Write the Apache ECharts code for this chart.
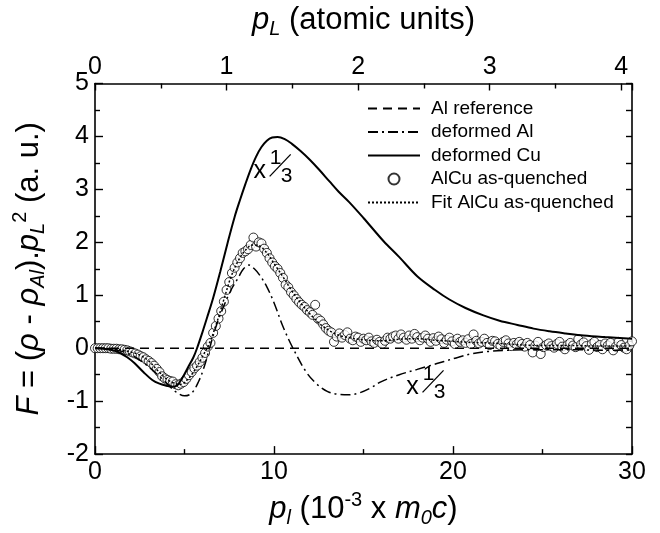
<!DOCTYPE html>
<html><head><meta charset="utf-8">
<script src="https://cdn.jsdelivr.net/npm/echarts@6/dist/echarts.min.js"></script>
<style>html,body{margin:0;padding:0;background:#fff}#c{width:660px;height:533px}</style>
</head><body><div id="c"></div>
<script>
const FONT = '"Liberation Sans", Arial, sans-serif';

// ---------- data ----------
const refX = [0, 30];
const refY = [0, 0];

const cuX = [0, 0.5, 1, 1.4, 1.8, 2.2, 2.7, 3.2, 3.6, 4.0, 4.3, 4.6, 4.9, 5.2, 5.5, 5.7, 6.0, 6.3, 6.6, 7.0, 7.4, 7.8, 8.1, 8.4, 8.7, 9.0, 9.3, 9.6, 9.9, 10.2, 10.6, 11.0, 11.5, 12.0, 12.5, 13.1, 13.6, 14.2, 15.0, 16.1, 17.0, 18.0, 19.0, 19.8, 20.7, 21.7, 22.6, 23.6, 24.5, 25.4, 26.3, 27.3, 28.5, 30];
const cuY = [0, -0.01, -0.04, -0.09, -0.17, -0.28, -0.45, -0.6, -0.67, -0.71, -0.73, -0.7, -0.55, -0.36, -0.17, 0, 0.3, 0.62, 0.95, 1.45, 1.98, 2.48, 2.8, 3.1, 3.38, 3.62, 3.8, 3.92, 3.98, 3.99, 3.95, 3.86, 3.72, 3.56, 3.38, 3.15, 2.96, 2.76, 2.46, 2.03, 1.72, 1.36, 1.1, 0.92, 0.76, 0.62, 0.52, 0.44, 0.37, 0.32, 0.28, 0.24, 0.21, 0.18];

const alX = [0, 1, 2, 2.8, 3.5, 4.0, 4.5, 5.0, 5.4, 5.8, 6.1, 6.4, 6.8, 7.2, 7.6, 8.0, 8.3, 8.6, 8.9, 9.2, 9.6, 10.0, 10.5, 11.06, 11.8, 12.4, 13.0, 13.6, 14.2, 14.8, 15.4, 16.0, 17.0, 18.0, 18.7, 19.5, 20.3, 21.1, 22.0, 23.0, 24.0, 25.5, 27.0, 28.5, 30];
const alY = [0, -0.02, -0.12, -0.3, -0.5, -0.66, -0.82, -0.9, -0.85, -0.62, -0.35, 0, 0.45, 0.8, 1.1, 1.33, 1.5, 1.57, 1.5, 1.38, 1.16, 0.86, 0.41, 0, -0.45, -0.68, -0.82, -0.87, -0.88, -0.84, -0.75, -0.63, -0.5, -0.4, -0.33, -0.25, -0.17, -0.1, -0.06, -0.04, -0.03, -0.03, -0.03, -0.04, -0.03];

const fitX = [0, 1, 2, 2.5, 3, 3.5, 4, 4.5, 4.8, 5.2, 5.6, 6, 6.4, 6.8, 7.2, 7.6, 8, 8.4, 8.8, 9.2, 9.6, 10, 10.5, 11, 11.5, 12, 12.5, 13, 13.5, 14, 15, 16, 17, 18, 19, 20, 21, 22, 23, 24, 25, 26, 27, 28, 29, 30];
const fitY = [0, -0.01, -0.07, -0.13, -0.24, -0.42, -0.58, -0.67, -0.68, -0.58, -0.4, -0.16, 0.1, 0.48, 0.92, 1.35, 1.65, 1.85, 1.95, 1.93, 1.8, 1.6, 1.35, 1.08, 0.85, 0.65, 0.48, 0.35, 0.26, 0.21, 0.16, 0.14, 0.17, 0.18, 0.15, 0.13, 0.11, 0.1, 0.08, 0.06, 0.05, 0.05, 0.05, 0.04, 0.04, 0.04];

// measured points (AlCu as-quenched), x grid from 0 to 30 in steps of 0.15
const measStep = 0.15;
const measY = [
  0.00, 0.00, 0.00, 0.00, 0.00, 0.00, -0.01, -0.01, -0.01, -0.02, -0.02,
  -0.03, -0.04, -0.06, -0.08, -0.10, -0.12, -0.15, -0.17, -0.21, -0.24,
  -0.28, -0.33, -0.39, -0.45, -0.53, -0.57, -0.60, -0.62, -0.63, -0.68,
  -0.70, -0.67, -0.64, -0.58, -0.51, -0.45, -0.38, -0.33, -0.26, -0.18,
  -0.09, 0.03, 0.10, 0.29, 0.42, 0.56, 0.70, 0.88, 1.10, 1.25,
  1.42, 1.52, 1.62, 1.70, 1.80, 1.83, 1.87, 1.95, 2.09, 1.92,
  2.00, 1.98, 1.88, 1.80, 1.70, 1.62, 1.55, 1.50, 1.42, 1.33,
  1.20, 1.15, 1.06, 1.00, 0.93, 0.87, 0.82, 0.78, 0.72, 0.68,
  0.63, 0.82, 0.56, 0.52, 0.45, 0.38, 0.33, 0.30, 0.12, 0.22,
  0.28, 0.20, 0.25, 0.30, 0.18, 0.15, 0.22, 0.20, 0.12, 0.18,
  0.15, 0.20, 0.13, 0.10, 0.16, 0.12, 0.08, 0.14, 0.20, 0.18,
  0.22, 0.24, 0.18, 0.26, 0.20, 0.16, 0.24, 0.18, 0.27, 0.21,
  0.15, 0.20, 0.24, 0.18, 0.12, 0.19, 0.14, 0.22, 0.17, 0.10,
  0.16, 0.20, 0.13, 0.08, 0.18, 0.12, 0.15, 0.10, 0.17, 0.08,
  0.26, 0.14, 0.09, 0.12, 0.18, 0.10, 0.06, 0.14, 0.13, 0.08,
  0.05, 0.12, 0.15, 0.09, 0.04, 0.10, 0.07, 0.12, 0.08, 0.03,
  0.10, 0.06, -0.08, 0.05, 0.12, -0.11, 0.02, 0.06, 0.09, 0.04,
  0.01, 0.08, 0.12, 0.03, -0.02, 0.06, 0.10, 0.05, 0.02, 0.17,
  0.07, 0.11, 0.04, -0.03, 0.08, 0.12, 0.02, 0.06, -0.02, 0.09,
  0.05, 0.10, -0.04, 0.03, 0.12, 0.06, 0.01, -0.02, 0.05, 0.13
];

const xTicks = [0, 10, 20, 30];
const yTicks = [-2, -1, 0, 1, 2, 3, 4, 5];
const auTicks = [0, 1, 2, 3, 4];
const auPerUnit = 7.35; // one atomic unit on the top axis, in 10^-3 m0c

// "x 1/3" annotations anchored in data coordinates
const annX = [9.2, 17.74];
const annY = [3.34, -0.74];

const names = ['Al reference', 'deformed Al', 'deformed Cu', 'AlCu as-quenched', 'Fit AlCu as-quenched'];

// ---------- build ----------
const zip = (xs, ys) => xs.map((x, i) => [x, ys[i]]);
const measData = measY.map((y, i) => [+(i * measStep).toFixed(2), y]);

const NF = 31, SF = 20;
const rich = {
  n: { fontSize: NF, fontFamily: FONT, color: '#000' },
  i: { fontSize: NF, fontFamily: FONT, fontStyle: 'italic', color: '#000' },
  isub: { fontSize: SF, fontFamily: FONT, fontStyle: 'italic', color: '#000', padding: [18, 0, 0, 0] },
  sup: { fontSize: SF, fontFamily: FONT, color: '#000', padding: [0, 0, 18, 0] }
};

const axisLine = { show: true, onZero: false, lineStyle: { color: '#000', width: 1.6 } };
const labelStyle = { color: '#000', fontSize: 25, fontFamily: FONT };

const chart = echarts.init(document.getElementById('c'));
chart.setOption({
  animation: false,
  backgroundColor: '#fff',
  grid: { left: 95, right: 28, top: 81, bottom: 76, containLabel: false },
  legend: {
    orient: 'vertical', left: 362, top: 94,
    itemWidth: 52, itemHeight: 11, itemGap: 4.5,
    data: names.map(n => n === names[3] ? { name: n } : { name: n, itemStyle: { opacity: 0 } }),
    textStyle: { fontSize: 19, fontFamily: FONT, color: '#000', padding: [0, 0, 0, 6] },
    selectedMode: false
  },
  xAxis: [
    {
      type: 'value', position: 'bottom', min: 0, max: 30, interval: 10,
      axisLine, splitLine: { show: false },
      axisTick: { inside: true, length: 8, lineStyle: { color: '#000', width: 1.4 } },
      minorTick: { show: true, splitNumber: 2, length: 5, lineStyle: { color: '#000', width: 1.4 } },
      axisLabel: Object.assign({ margin: 6, formatter: v => xTicks.includes(v) ? String(v) : '' }, labelStyle),
      name: '{i|p}{isub|l}{n| (10}{sup|-3}{n| x }{i|m}{isub|0}{i|c}{n|)}',
      nameLocation: 'middle', nameGap: 32,
      nameTextStyle: { rich }
    },
    {
      type: 'value', position: 'top', min: 0, max: 30 / auPerUnit, interval: 1,
      axisLine, splitLine: { show: false },
      axisTick: { inside: true, length: 7, lineStyle: { color: '#000', width: 1.4 } },
      minorTick: { show: true, splitNumber: 2, length: 5, lineStyle: { color: '#000', width: 1.4 } },
      axisLabel: Object.assign({ margin: 4, formatter: v => auTicks.includes(v) ? String(v) : '' }, labelStyle),
      name: '{i|p}{isub|L}{n| (atomic units)}',
      nameLocation: 'middle', nameGap: 44,
      nameTextStyle: { rich }
    }
  ],
  yAxis: [
    {
      type: 'value', position: 'left', min: -2, max: 5, interval: 1,
      axisLine, splitLine: { show: false },
      axisTick: { inside: true, length: 8, lineStyle: { color: '#000', width: 1.4 } },
      minorTick: { show: true, splitNumber: 2, length: 5, lineStyle: { color: '#000', width: 1.4 } },
      axisLabel: Object.assign({ margin: 6, formatter: v => yTicks.includes(v) ? String(v) : '' }, labelStyle),
      name: '{i|F}{n| = (}{i|ρ}{n| - }{i|ρ}{isub|Al}{n|).}{i|p}{isub|L}{sup|2}{n| (a. u.)}',
      nameLocation: 'middle', nameGap: 47, nameRotate: 90,
      nameTextStyle: { rich }
    },
    {
      type: 'value', position: 'right', min: -2, max: 5, interval: 0.5,
      axisLine, splitLine: { show: false },
      axisTick: { inside: true, length: 6, lineStyle: { color: '#000', width: 1.4 } },
      axisLabel: { show: false }
    }
  ],
  series: [
    {
      name: names[0], type: 'line', data: zip(refX, refY), symbol: 'none', z: 3,
      lineStyle: { color: '#000', width: 1.5, type: [9, 6] }, itemStyle: { color: '#000' }
    },
    {
      name: names[3], type: 'scatter', data: measData, symbol: 'circle', symbolSize: 9, z: 2,
      itemStyle: { color: '#fff', borderColor: '#000', borderWidth: 1 }
    },
    {
      name: names[1], type: 'line', data: zip(alX, alY), symbol: 'none', smooth: 0.35, z: 4,
      lineStyle: { color: '#000', width: 1.5, type: [10, 4, 2, 4] }, itemStyle: { color: '#000' }
    },
    {
      name: names[2], type: 'line', data: zip(cuX, cuY), symbol: 'none', smooth: 0.35, z: 4,
      lineStyle: { color: '#000', width: 2 }, itemStyle: { color: '#000' }
    },
    {
      name: names[4], type: 'line', data: zip(fitX, fitY), symbol: 'none', smooth: 0.35, z: 5,
      lineStyle: { color: '#000', width: 1.5, type: [2, 2] }, itemStyle: { color: '#000' }
    }
  ]
});

// annotations "x 1/3"
const graphic = [];
annX.forEach((ax, k) => {
  const p = chart.convertToPixel({ xAxisIndex: 0, yAxisIndex: 0 }, [ax, annY[k]]);
  graphic.push({
    type: 'group', x: p[0], y: p[1], z: 100,
    children: [
      { type: 'text', x: 0, y: 0, style: { text: 'x', font: '25px ' + FONT, fill: '#000', align: 'center', verticalAlign: 'middle' } },
      { type: 'text', x: 16, y: -13, style: { text: '1', font: '21px ' + FONT, fill: '#000', align: 'center', verticalAlign: 'middle' } },
      { type: 'line', shape: { x1: 10, y1: 5, x2: 31, y2: -17 }, style: { stroke: '#000', lineWidth: 1.3 } },
      { type: 'text', x: 27, y: 5, style: { text: '3', font: '21px ' + FONT, fill: '#000', align: 'center', verticalAlign: 'middle' } }
    ]
  });
});
chart.setOption({ graphic });
</script>
</body></html>
